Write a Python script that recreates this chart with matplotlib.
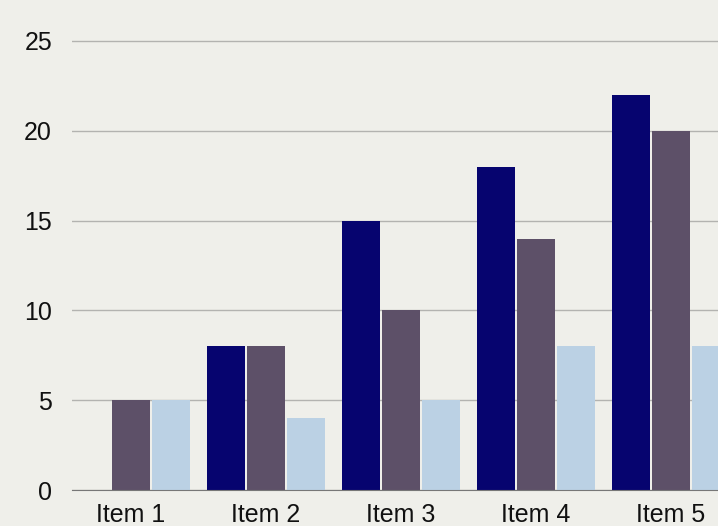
import numpy as np
import matplotlib.pyplot as plt

items = ["Item 1", "Item 2", "Item 3", "Item 4", "Item 5"]
series_a = [0, 8, 15, 18, 22]
series_b = [5, 8, 10, 14, 20]
series_c = [5, 4, 5, 8, 8]
yticks = [0, 5, 10, 15, 20, 25]

colors = ["#06046f", "#5d5068", "#bbd1e4"]
bg = "#efefea"

plt.rcParams['font.family'] = ['Liberation Sans', 'DejaVu Sans']

fig = plt.figure(figsize=(7.18, 5.26), dpi=100, facecolor=bg)
ax = fig.add_axes([72 / 718, 36 / 526, 1 - 72 / 718, 1 - 36 / 526])
ax.set_facecolor(bg)

x = np.arange(len(items))
step = 0.296
width = 0.282
for i, vals in enumerate([series_a, series_b, series_c]):
    ax.bar(x + (i - 1) * step, vals, width, color=colors[i], zorder=3)

ax.set_xlim(-0.437, 4.348)
ax.set_ylim(0, 27.28)
ax.set_xticks(x)
ax.set_xticklabels(items)
ax.set_yticks(yticks)
ax.grid(axis='y', color='#b3b3b0', linewidth=1, zorder=0)
ax.tick_params(axis='both', length=0, labelsize=18, colors='#111111')
ax.tick_params(axis='y', pad=14.4)
ax.tick_params(axis='x', pad=9)
for s in ['top', 'right', 'left']:
    ax.spines[s].set_visible(False)
ax.spines['bottom'].set_color('#777777')
ax.spines['bottom'].set_zorder(4)

fig.savefig("out.png", dpi=100, facecolor=bg)
